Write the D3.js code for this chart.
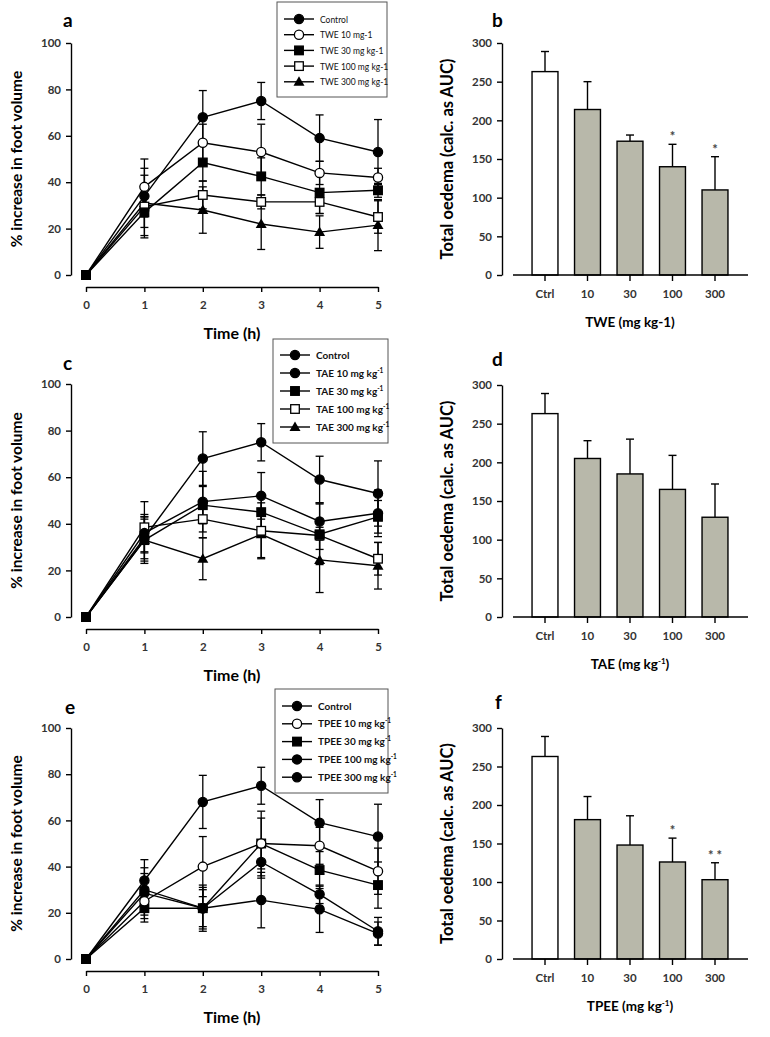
<!DOCTYPE html>
<html><head><meta charset="utf-8">
<script src="https://cdn.jsdelivr.net/npm/d3@7"></script>
<style>body{margin:0;background:#fff}svg{display:block}</style>
</head><body>
<svg id="c" width="770" height="1037"></svg>
<script>
// ---------- DATA ----------
const times = [0, 1, 2, 3, 4, 5];
const lineTicksY = [0, 20, 40, 60, 80, 100];
const barTicksY = [0, 50, 100, 150, 200, 250, 300];
const barCats = ["Ctrl", "10", "30", "100", "300"];

const controlVals = [0, 34, 68, 75, 59, 53];
const controlErr  = [0, 9, 11.5, 8, 10, 14];

// Panel a (TWE)
const twe10Vals  = [0, 38, 57, 53, 44, 42];    const twe10Err  = [0, 12, 8, 12, 5, 4];
const twe30Vals  = [0, 27, 48.5, 42.5, 35.5, 36.5]; const twe30Err = [0, 10, 8, 8, 9, 3];
const twe100Vals = [0, 29.5, 34.5, 31.5, 31.5, 25]; const twe100Err = [0, 9, 6, 3, 5, 7];
const twe300Vals = [0, 31, 28, 22, 18.5, 21.5];     const twe300Err = [0, 15, 10, 11, 7, 11];
const tweLabels = ["Control", "TWE 10 mg-1", "TWE 30 mg kg-1", "TWE 100 mg kg-1", "TWE 300 mg kg-1"];

// Panel c (TAE)
const tae10Vals  = [0, 36, 49.5, 52, 41, 44.5]; const tae10Err  = [0, 8, 13, 10, 8, 10];
const tae30Vals  = [0, 33, 48, 45, 35.5, 43];   const tae30Err  = [0, 9, 8, 7, 13, 7];
const tae100Vals = [0, 38.5, 42, 37, 35, 25];   const tae100Err = [0, 11, 8, 12, 6, 7];
const tae300Vals = [0, 33, 25, 35.5, 24.5, 22]; const tae300Err = [0, 10, 9, 10, 14, 10];
const taeLabels = ["Control", "TAE 10 mg kg", "TAE 30 mg kg", "TAE 100 mg kg", "TAE 300 mg kg"];

// Panel e (TPEE)
const tpee10Vals  = [0, 25, 40, 50, 49, 38];     const tpee10Err  = [0, 6, 13, 11, 8, 10];
const tpee30Vals  = [0, 22, 22, 50, 38.5, 32];   const tpee30Err  = [0, 6, 10, 14, 8, 10];
const tpee100Vals = [0, 30, 22, 42, 28, 12];     const tpee100Err = [0, 7, 9, 7, 4, 6];
const tpee300Vals = [0, 28.5, 22, 25.5, 21.5, 11]; const tpee300Err = [0, 11, 8, 12, 10, 5];
const tpeeLabels = ["Control", "TPEE 10 mg kg", "TPEE 30 mg kg", "TPEE 100 mg kg", "TPEE 300 mg kg"];

// Bar panels
const bVals = [263, 214, 173, 140, 110]; const bErr = [26, 36, 8, 29, 43]; const bSig = ["", "", "", "*", "*"];
const dVals = [263, 205, 185, 165, 129]; const dErr = [26, 23, 45, 44, 43]; const dSig = ["", "", "", "", ""];
const fVals = [263, 181, 148, 126, 103]; const fErr = [26, 30, 38, 31, 22]; const fSig = ["", "", "", "*", "**"];

// ---------- DRAWING ----------
const svg = d3.select("#c");
const FONT = "Lato, 'Open Sans', sans-serif";

function marker(g, type, cx, cy) {
  const r = 4.6;
  if (type === "fc" || type === "oc") {
    g.append("circle").attr("cx", cx).attr("cy", cy).attr("r", r)
      .attr("fill", type === "fc" ? "#000" : "#fff").attr("stroke", "#000").attr("stroke-width", 1.3);
  } else if (type === "fs" || type === "os") {
    g.append("rect").attr("x", cx - 4.3).attr("y", cy - 4.3).attr("width", 8.6).attr("height", 8.6)
      .attr("fill", type === "fs" ? "#000" : "#fff").attr("stroke", "#000").attr("stroke-width", 1.3);
  } else if (type === "tri") {
    g.append("path").attr("d", `M${cx},${cy - 5.5}L${cx + 5.5},${cy + 4}L${cx - 5.5},${cy + 4}Z`).attr("fill", "#000");
  }
}

function linePanel(cfg) {
  const x = d3.scaleLinear().domain([0, 5]).range([86, 378]);
  const y = d3.scaleLinear().domain([0, 100]).range([cfg.y0, cfg.y100]);
  const g = svg.append("g");
  const ya = g.append("g").attr("transform", "translate(71,0)")
    .call(d3.axisLeft(y).tickValues(lineTicksY).tickFormat(d3.format("d")).tickSize(5).tickSizeOuter(0).tickPadding(5));
  const xa = g.append("g").attr("transform", `translate(0,${cfg.y0 + 12})`)
    .call(d3.axisBottom(x).tickValues(times).tickFormat(d3.format("d")).tickSize(5).tickSizeOuter(0).tickPadding(9));
  [ya, xa].forEach(a => {
    a.select(".domain").attr("stroke", "#000").attr("stroke-width", 1.4);
    a.selectAll(".tick line").attr("stroke", "#000").attr("stroke-width", 1.4);
    a.selectAll(".tick text").attr("font-family", FONT).attr("font-size", 11.5).attr("font-weight", 700).attr("fill", "#333");
  });
  const line = d3.line().x((d, i) => x(times[i])).y(d => y(d));
  cfg.series.forEach(s => {
    s.vals.forEach((v, i) => {
      const e = s.err[i];
      if (!e) return;
      const xx = x(times[i]);
      g.append("line").attr("x1", xx).attr("x2", xx).attr("y1", y(v - e)).attr("y2", y(v + e)).attr("stroke", "#000").attr("stroke-width", 1.3);
      [v - e, v + e].forEach(w => g.append("line").attr("x1", xx - 4).attr("x2", xx + 4).attr("y1", y(w)).attr("y2", y(w)).attr("stroke", "#000").attr("stroke-width", 1.3));
    });
  });
  cfg.series.forEach(s => {
    g.append("path").attr("d", line(s.vals)).attr("fill", "none").attr("stroke", "#000").attr("stroke-width", 1.4);
  });
  cfg.series.slice().reverse().forEach(s => {
    s.vals.forEach((v, i) => marker(g, i === 0 ? "fs" : s.m, x(times[i]), y(v)));
  });
  g.append("text").attr("x", 232).attr("y", cfg.y0 + 64).attr("text-anchor", "middle")
    .attr("font-family", FONT).attr("font-size", 16).attr("font-weight", 700).text("Time (h)");
  g.append("text").attr("transform", `translate(22,${(cfg.y0 + cfg.y100) / 2}) rotate(-90)`).attr("text-anchor", "middle")
    .attr("font-family", FONT).attr("font-size", 15.5).attr("font-weight", 700).text("% increase in foot volume");
  g.append("text").attr("x", cfg.letterX).attr("y", cfg.letterY).attr("font-family", FONT).attr("font-size", 19).attr("font-weight", 700).text(cfg.letter);
  const L = cfg.legend;
  g.append("rect").attr("x", L.x).attr("y", L.y).attr("width", L.w).attr("height", L.h).attr("fill", "#fff").attr("stroke", "#555").attr("stroke-width", 1);
  cfg.series.forEach((s, i) => {
    const ry = L.y + L.first + i * L.step;
    g.append("line").attr("x1", L.x + 7).attr("x2", L.x + 37).attr("y1", ry).attr("y2", ry).attr("stroke", "#000").attr("stroke-width", 1.4);
    marker(g, s.m, L.x + 22, ry);
    const t = g.append("text").attr("x", L.x + 43).attr("y", ry + 3.5).attr("font-family", FONT)
      .attr("font-size", L.fs).attr("font-weight", L.fw).attr("fill", "#111").text(cfg.labels[i]);
    if (L.sup && i > 0) t.append("tspan").attr("dy", -4).attr("font-size", L.fs * 0.65).text("-1");
  });
}

function barPanel(cfg) {
  const x = d3.scaleBand().domain(barCats).range([523.75, 736.25]).paddingInner(0.39).paddingOuter(0.195);
  const y = d3.scaleLinear().domain([0, 300]).range([cfg.y0, cfg.y300]);
  const g = svg.append("g");
  const ya = g.append("g").attr("transform", "translate(502,0)")
    .call(d3.axisLeft(y).tickValues(barTicksY).tickSize(5).tickSizeOuter(0).tickPadding(5));
  ya.select(".domain").attr("stroke", "#000").attr("stroke-width", 1.4);
  ya.selectAll(".tick line").attr("stroke", "#000").attr("stroke-width", 1.4);
  ya.selectAll(".tick text").attr("font-family", FONT).attr("font-size", 11.5).attr("font-weight", 700).attr("fill", "#333");
  barCats.forEach((c, i) => {
    const v = cfg.vals[i], e = cfg.err[i], cx = x(c) + x.bandwidth() / 2;
    g.append("line").attr("x1", cx).attr("x2", cx).attr("y1", y(v)).attr("y2", y(v + e)).attr("stroke", "#000").attr("stroke-width", 1.4);
    g.append("line").attr("x1", cx - 4).attr("x2", cx + 4).attr("y1", y(v + e)).attr("y2", y(v + e)).attr("stroke", "#000").attr("stroke-width", 1.4);
    g.append("rect").attr("x", x(c)).attr("y", y(v)).attr("width", x.bandwidth()).attr("height", y(0) - y(v))
      .attr("fill", i === 0 ? "#fff" : "#b8b8aa").attr("stroke", "#000").attr("stroke-width", 1.4);
    if (cfg.sig[i]) g.append("text").attr("x", cx).attr("y", y(v + e) - 3).attr("text-anchor", "middle")
      .attr("font-family", FONT).attr("font-size", 13).attr("font-weight", 700).attr("fill", "#444").text(cfg.sig[i].split("").join(" "));
  });
  const xa = g.append("g").attr("transform", `translate(0,${cfg.y0})`)
    .call(d3.axisBottom(x).tickSize(6).tickSizeOuter(0).tickPadding(9));
  xa.select(".domain").remove();
  g.append("line").attr("x1", 513).attr("x2", 748).attr("y1", cfg.y0).attr("y2", cfg.y0).attr("stroke", "#000").attr("stroke-width", 1.4);
  xa.selectAll(".tick line").attr("stroke", "#000").attr("stroke-width", 1.4);
  xa.selectAll(".tick text").attr("font-family", FONT).attr("font-size", 11.5).attr("font-weight", 700).attr("fill", "#333");
  const t = g.append("text").attr("x", 630).attr("y", cfg.y0 + 52).attr("text-anchor", "middle")
    .attr("font-family", FONT).attr("font-size", 13.5).attr("font-weight", 700).text(cfg.title);
  if (cfg.sup) { t.append("tspan").attr("dy", -5).attr("font-size", 8).text("-1"); t.append("tspan").attr("dy", 5).text(")"); }
  g.append("text").attr("transform", `translate(453,${(cfg.y0 + cfg.y300) / 2}) rotate(-90)`).attr("text-anchor", "middle")
    .attr("font-family", FONT).attr("font-size", 16.5).attr("font-weight", 700).text("Total oedema (calc. as AUC)");
  g.append("text").attr("x", cfg.letterX).attr("y", cfg.letterY).attr("font-family", FONT).attr("font-size", 19).attr("font-weight", 700).text(cfg.letter);
}

linePanel({
  y0: 275, y100: 43, letter: "a", letterX: 63, letterY: 27, labels: tweLabels,
  legend: { x: 277, y: 2, w: 110, h: 95, first: 17, step: 15.7, fs: 8.5, fw: 400, sup: false },
  series: [
    { vals: controlVals, err: controlErr, m: "fc" },
    { vals: twe10Vals, err: twe10Err, m: "oc" },
    { vals: twe30Vals, err: twe30Err, m: "fs" },
    { vals: twe100Vals, err: twe100Err, m: "os" },
    { vals: twe300Vals, err: twe300Err, m: "tri" }
  ]
});
linePanel({
  y0: 617, y100: 384, letter: "c", letterX: 63, letterY: 370, labels: taeLabels,
  legend: { x: 273, y: 339, w: 115, h: 104, first: 16, step: 18, fs: 10, fw: 700, sup: true },
  series: [
    { vals: controlVals, err: controlErr, m: "fc" },
    { vals: tae10Vals, err: tae10Err, m: "fc" },
    { vals: tae30Vals, err: tae30Err, m: "fs" },
    { vals: tae100Vals, err: tae100Err, m: "os" },
    { vals: tae300Vals, err: tae300Err, m: "tri" }
  ]
});
linePanel({
  y0: 959, y100: 728, letter: "e", letterX: 65, letterY: 714, labels: tpeeLabels,
  legend: { x: 275, y: 689, w: 113, h: 104, first: 17, step: 17.8, fs: 10, fw: 700, sup: true },
  series: [
    { vals: controlVals, err: controlErr, m: "fc" },
    { vals: tpee10Vals, err: tpee10Err, m: "oc" },
    { vals: tpee30Vals, err: tpee30Err, m: "fs" },
    { vals: tpee100Vals, err: tpee100Err, m: "fc" },
    { vals: tpee300Vals, err: tpee300Err, m: "fc" }
  ]
});
barPanel({ y0: 275, y300: 43, vals: bVals, err: bErr, sig: bSig, title: "TWE (mg kg-1)", sup: false, letter: "b", letterX: 492, letterY: 27 });
barPanel({ y0: 617, y300: 385, vals: dVals, err: dErr, sig: dSig, title: "TAE (mg kg", sup: true, letter: "d", letterX: 492, letterY: 366 });
barPanel({ y0: 959, y300: 728, vals: fVals, err: fErr, sig: fSig, title: "TPEE (mg kg", sup: true, letter: "f", letterX: 495, letterY: 709 });
</script>
</body></html>
